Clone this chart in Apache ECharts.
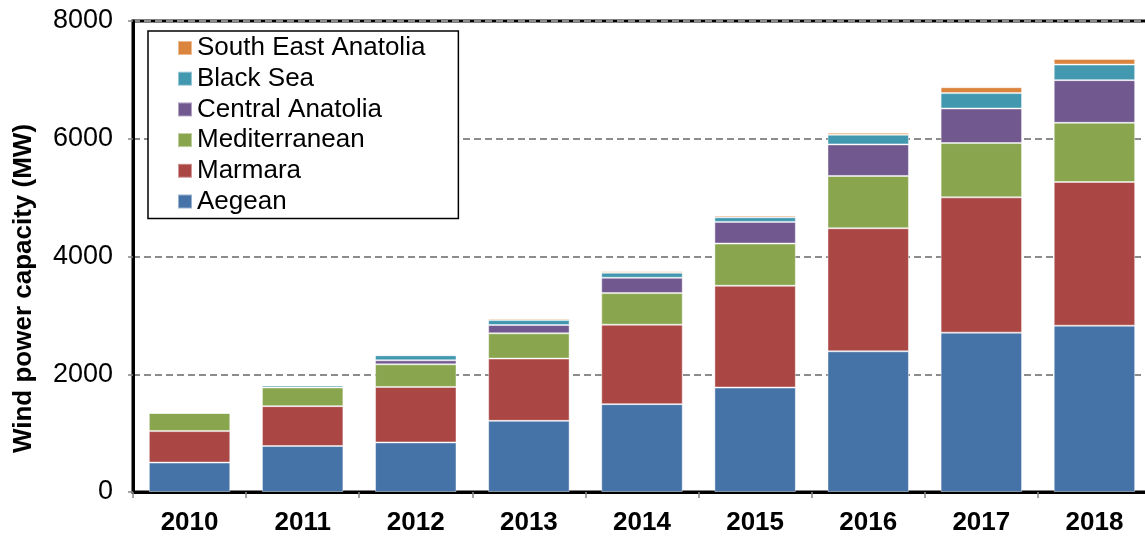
<!DOCTYPE html>
<html>
<head>
<meta charset="utf-8">
<script src="https://cdn.jsdelivr.net/npm/echarts@6/dist/echarts.min.js"></script>
<style>
  * { margin: 0; padding: 0; }
  html, body { width: 1145px; height: 538px; background: #fff; overflow: hidden; }
  #renderDom { width: 1145px; height: 538px; }
</style>
</head>
<body>
<div id="renderDom"></div>
<script>
// wind capacity by region, MW
var years = ['2010', '2011', '2012', '2013', '2014', '2015', '2016', '2017', '2018'];
var aegean = [500, 780, 842, 1209, 1492, 1774, 2390, 2707, 2825];
var marmara = [534, 678, 943, 1057, 1350, 1729, 2090, 2298, 2441];
var mediterranean = [310, 317, 384, 429, 536, 717, 888, 922, 1005];
var centralAnatolia = [0, 0, 68, 141, 261, 368, 536, 587, 724];
var blackSea = [0, 33, 85, 84, 85, 78, 164, 261, 265];
var southEastAnatolia = [0, 0, 0, 29, 27, 29, 34, 101, 96];

var FONT = 'Liberation Sans';

var myChart = echarts.init(document.getElementById('renderDom'), null, { renderer: 'canvas' });

function bar(name, data, color) {
  return {
    name: name,
    type: 'bar',
    stack: 'total',
    barWidth: '72%',
    data: data,
    itemStyle: { color: color, borderColor: 'rgba(255,255,255,0.45)', borderWidth: 1 }
  };
}

var option = {
  animation: false,
  backgroundColor: '#fff',
  grid: {
    left: 133, top: 21, width: 1018, bottom: 46,
    outerBoundsMode: 'none',
    containLabel: false,
    show: true, borderColor: '#000', borderWidth: 3, backgroundColor: 'transparent'
  },
  legend: {
    orient: 'vertical',
    left: 148, top: 31,
    padding: [4, 33, 4, 29],
    itemGap: 4.7,
    itemWidth: 14, itemHeight: 14,
    icon: 'rect',
    borderColor: '#000', borderWidth: 1.5,
    backgroundColor: '#fff',
    textStyle: { fontFamily: FONT, fontSize: 26, color: '#000', lineHeight: 26 },
    data: ['South East Anatolia', 'Black Sea', 'Central Anatolia', 'Mediterranean', 'Marmara', 'Aegean']
  },
  xAxis: {
    type: 'category',
    data: years,
    axisLine: { lineStyle: { color: '#000', width: 3 } },
    axisTick: { show: true, length: 6, lineStyle: { color: '#888', width: 1.5 } },
    axisLabel: { fontFamily: FONT, fontSize: 26, fontWeight: 'bold', color: '#000', margin: 18 }
  },
  yAxis: {
    type: 'value',
    min: 0, max: 8000, interval: 2000,
    name: 'Wind power capacity (MW)',
    nameLocation: 'middle',
    nameGap: 96,
    nameTextStyle: { fontFamily: FONT, fontSize: 26, fontWeight: 'bold', color: '#000', padding: [0, 64, 0, 0] },
    axisLine: { show: true, lineStyle: { color: '#000', width: 3 } },
    axisTick: { show: true, length: 5, lineStyle: { color: '#888', width: 1.5 } },
    axisLabel: { fontFamily: FONT, fontSize: 27, color: '#000', margin: 20, formatter: function (v) { return String(v); } },
    splitLine: { show: true, lineStyle: { color: '#8c8c8c', width: 2, type: [7, 4] } }
  },
  series: [
    bar('Aegean', aegean, '#4572A7'),
    bar('Marmara', marmara, '#AA4643'),
    bar('Mediterranean', mediterranean, '#89A54E'),
    bar('Central Anatolia', centralAnatolia, '#71588F'),
    bar('Black Sea', blackSea, '#4198AF'),
    bar('South East Anatolia', southEastAnatolia, '#DB843D')
  ]
};

myChart.setOption(option);
</script>
</body>
</html>
